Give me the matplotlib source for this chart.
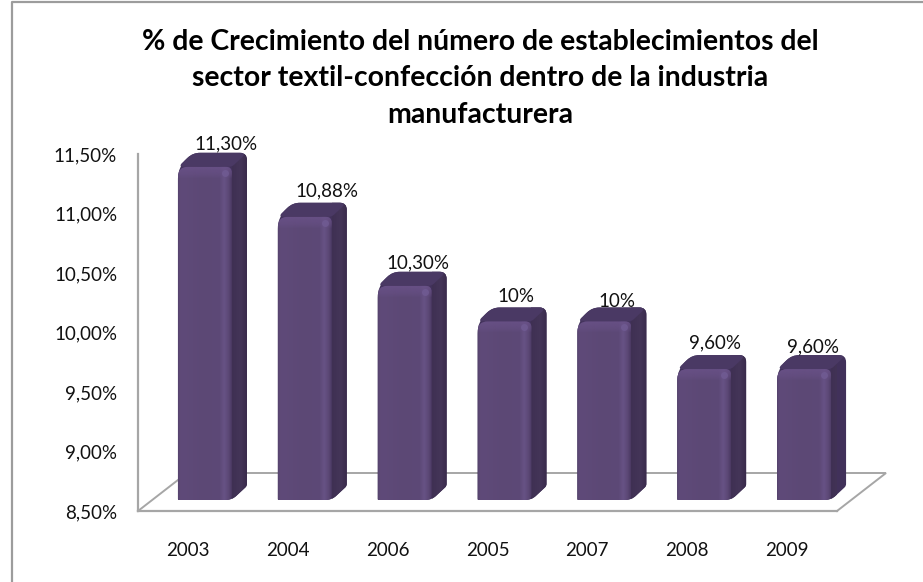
import numpy as np
import matplotlib
matplotlib.use("Agg")
import matplotlib.pyplot as plt
from matplotlib.colors import to_rgb
from matplotlib.patches import PathPatch
from matplotlib.path import Path

plt.rcParams["font.family"] = ["Lato", "DejaVu Sans"]

# Data, in the order of the chart
years = ["2003", "2004", "2006", "2005", "2007", "2008", "2009"]
values = [11.30, 10.88, 10.30, 10.0, 10.0, 9.60, 9.60]
value_labels = ["11,30%", "10,88%", "10,30%", "10%", "10%", "9,60%", "9,60%"]
y_ticks = [8.5, 9.0, 9.5, 10.0, 10.5, 11.0, 11.5]
y_tick_labels = ["8,50%", "9,00%", "9,50%", "10,00%", "10,50%", "11,00%", "11,50%"]
title = ("% de Crecimiento del número de establecimientos del\n"
         "sector textil-confección dentro de la industria\n"
         "manufacturera")

GRAY = "#a6a6a6"
W, H = 923, 582
AX_L, AX_R, AX_T, AX_B = 138, 837, 154, 511

fig = plt.figure(figsize=(W / 100, H / 100), dpi=100, facecolor="white")
ax = fig.add_axes([AX_L / W, 1 - AX_B / H, (AX_R - AX_L) / W, (AX_B - AX_T) / H])
ax.set_xlim(-0.5, 6.5)
ax.set_ylim(8.5, 11.5)


# pixel lengths to data lengths
def dx(px):
    return px * 7 / (AX_R - AX_L)


def dy(px):
    return px * 3 / (AX_B - AX_T)


def rounded(points, radii):
    """Closed path through points, corners rounded by a radius given in pixels."""
    pts = [np.array([p[0] / dx(1), p[1] / dy(1)]) for p in points]
    n = len(pts)
    verts, codes = [], []
    for k in range(n):
        p, prev, nxt = pts[k], pts[k - 1], pts[(k + 1) % n]
        a = p + (prev - p) / np.linalg.norm(prev - p) * radii[k]
        b = p + (nxt - p) / np.linalg.norm(nxt - p) * radii[k]
        verts += [a, p, b]
        codes += [Path.MOVETO if k == 0 else Path.LINETO, Path.CURVE3, Path.CURVE3]
    verts.append(verts[0])
    codes.append(Path.CLOSEPOLY)
    verts = [(v[0] * dx(1), v[1] * dy(1)) for v in verts]
    return Path(verts, codes)


def gradient(stops, horizontal=True, alpha=None, n=64):
    pos = [s[0] for s in stops]
    rgb = np.array([to_rgb(s[1]) for s in stops])
    t = np.linspace(0, 1, n)
    arr = np.stack([np.interp(t, pos, rgb[:, c]) for c in range(3)], axis=-1)
    if alpha is not None:
        arr = np.dstack([arr[:, None, :], np.interp(t, [a[0] for a in alpha], [a[1] for a in alpha])[:, None]])
        return arr
    return arr[None, :, :] if horizontal else arr[:, None, :]


# Floor of the 3D box
depth_x, depth_y = dx(49), dy(38)
ax.plot([-0.5, -0.5 + depth_x, 6.5 + depth_x, 6.5], [8.5, 8.5 + depth_y, 8.5 + depth_y, 8.5],
        color=GRAY, lw=1.4, clip_on=False, zorder=1, solid_joinstyle="miter")
ax.plot([-0.5, 6.5], [8.5, 8.5], color=GRAY, lw=1.6, clip_on=False, zorder=1)

# Bars
face_stops = [(0, "#57446f"), (0.04, "#5f4a79"), (0.5, "#5c4875"), (0.78, "#5d4977"),
              (0.86, "#675285"), (0.94, "#5d4977"), (1, "#4c3a63")]
side_stops = [(0, "#3f3053"), (0.6, "#443558"), (1, "#3a2b4c")]

for i, v in enumerate(values):
    left, right = i + dx(-10), i + dx(44)
    base, top = 8.5 + dy(11), v + dy(11)
    sx, sy = dx(15), dy(14)
    z = 3 + i * 0.1

    shape = rounded([(left, base), (right, base), (right + sx, base + sy), (right + sx, top + sy),
                     (left + sx, top + sy), (left, top)], [1, 6, 2, 7, 7, 12])
    sil = PathPatch(shape, fc="#41315a", ec="none", zorder=z, clip_on=False)
    ax.add_patch(sil)
    side = ax.imshow(gradient(side_stops), extent=(right, right + sx, base, top + sy),
                     aspect="auto", zorder=z, interpolation="bilinear", clip_on=True)
    side.set_clip_path(sil)

    # top face, lighter than the side
    top_patch = PathPatch(rounded([(left, top), (right, top), (right + sx, top + sy), (left + sx, top + sy)],
                                  [6, 3, 7, 7]), fc="#4a3964", ec="none", zorder=z + 0.01, clip_on=False)
    top_patch.set_clip_path(sil)
    ax.add_patch(top_patch)

    # front face
    front = PathPatch(rounded([(left, base), (right, base), (right, top), (left, top)], [1, 5, 6, 10]),
                      fc="none", ec="none", zorder=z + 0.02, clip_on=False)
    ax.add_patch(front)
    im = ax.imshow(gradient(face_stops), extent=(left, right, base, top), aspect="auto",
                   zorder=z + 0.02, interpolation="bilinear")
    im.set_clip_path(front)

    # soft bevel along the top of the front face
    bevel = ax.imshow(gradient([(0, "#6a5289"), (1, "#6a5289")], alpha=[(0, 0.8), (0.6, 0.45), (1, 0)]),
                      extent=(left, right, top - dy(12), top), aspect="auto",
                      zorder=z + 0.03, interpolation="bilinear")
    bevel.set_clip_path(front)
    ax.plot(right - dx(7), top - dy(6), "o", ms=5, color="#715c94", mec="none", alpha=0.8,
            zorder=z + 0.04, clip_on=False)

# Value labels, nudged per bar as the original placed them
nudge_x = [38, 39, 30, 28, 30, 28, 26]
nudge_y = [34, 37, 34, 36, 31, 37, 33]
for i, v in enumerate(values):
    ax.annotate(value_labels[i], xy=(i, v), xytext=(nudge_x[i], nudge_y[i]),
                textcoords="offset pixels", ha="center", va="center", fontsize=13.5,
                color="#111111", zorder=10, annotation_clip=False)

# Axes
for sp in ["top", "right", "bottom"]:
    ax.spines[sp].set_visible(False)
ax.spines["left"].set_color(GRAY)
ax.spines["left"].set_linewidth(1.6)
ax.set_xticks(range(len(years)), years)
ax.set_yticks(y_ticks, y_tick_labels)
ax.tick_params(axis="y", length=0, pad=15, labelsize=13.5, labelcolor="#111111")
ax.tick_params(axis="x", length=0, pad=22, labelsize=13.5, labelcolor="#111111")

# Chart border: only the top and left edges are in frame
fig.add_artist(plt.Line2D([11.5 / W, 11.5 / W, 1], [0, 1 - 1.5 / H, 1 - 1.5 / H],
                          color="#9c9c9c", lw=1.6, transform=fig.transFigure))

fig.text(480.5 / W, 1 - 78.5 / H, title, ha="center", va="center", fontsize=20.4, fontweight="bold",
         color="black", linespacing=1.48)

fig.savefig("out.png", dpi=100, facecolor="white")
plt.close(fig)
